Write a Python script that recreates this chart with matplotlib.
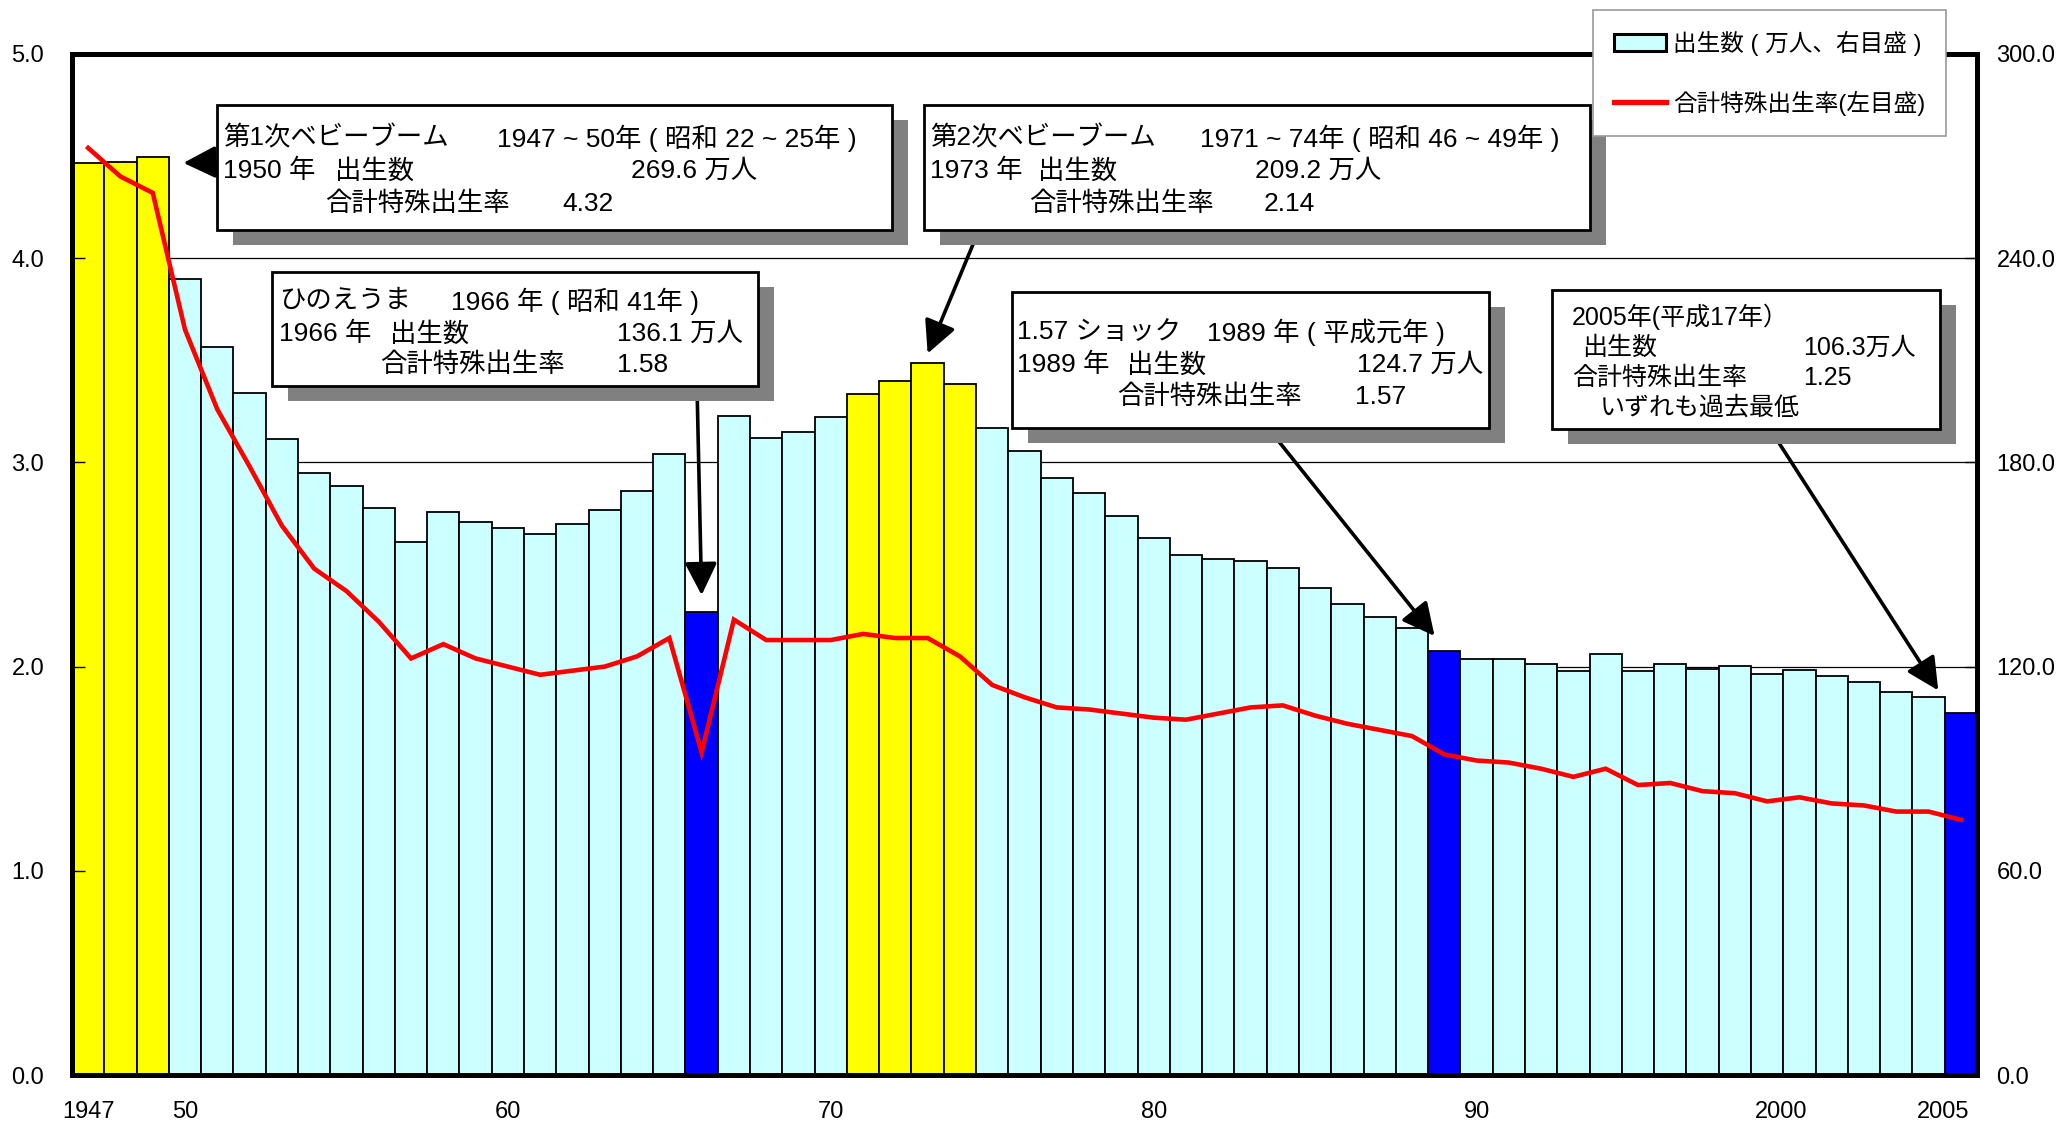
import matplotlib
matplotlib.use("Agg")
import matplotlib.pyplot as plt
from matplotlib import font_manager
from matplotlib.patches import Rectangle, Patch
from matplotlib.lines import Line2D
from matplotlib.transforms import ScaledTranslation

# ---- fonts ----
_names = {f.name for f in font_manager.fontManager.ttflist}
NARROW = "Liberation Sans Narrow" if "Liberation Sans Narrow" in _names else "Liberation Sans"
JP = "Noto Sans CJK JP"
plt.rcParams["font.family"] = [NARROW, JP, "DejaVu Sans"]

# ---- data ----
years = list(range(1947, 2006))
births = [267.9, 268.2, 269.6, 233.8, 213.8, 200.5, 186.8, 177.0, 173.1, 166.5,
          156.7, 165.3, 162.6, 160.6, 158.9, 161.9, 166.0, 171.7, 182.4, 136.1,
          193.6, 187.2, 188.9, 193.4, 200.1, 203.9, 209.2, 203.0, 190.1, 183.3,
          175.5, 170.9, 164.3, 157.7, 152.9, 151.5, 150.9, 149.0, 143.2, 138.3,
          134.7, 131.4, 124.7, 122.2, 122.3, 120.9, 118.8, 123.8, 118.7, 120.7,
          119.2, 120.3, 117.8, 119.1, 117.1, 115.4, 112.4, 111.1, 106.3]
tfr = [4.54, 4.40, 4.32, 3.65, 3.26, 2.98, 2.69, 2.48, 2.37, 2.22,
       2.04, 2.11, 2.04, 2.00, 1.96, 1.98, 2.00, 2.05, 2.14, 1.58,
       2.23, 2.13, 2.13, 2.13, 2.16, 2.14, 2.14, 2.05, 1.91, 1.85,
       1.80, 1.79, 1.77, 1.75, 1.74, 1.77, 1.80, 1.81, 1.76, 1.72,
       1.69, 1.66, 1.57, 1.54, 1.53, 1.50, 1.46, 1.50, 1.42, 1.43,
       1.39, 1.38, 1.34, 1.36, 1.33, 1.32, 1.29, 1.29, 1.25]
boom_years = [1947, 1948, 1949, 1971, 1972, 1973, 1974]
low_years = [1966, 1989, 2005]

xtick_years = [1947, 1950, 1960, 1970, 1980, 1990, 2000, 2005]
xtick_labels = ["1947", "50", "60", "70", "80", "90", "2000", "2005"]
left_ticks = [0, 1, 2, 3, 4, 5]
right_ticks = [0, 60, 120, 180, 240, 300]

CYAN = "#CCFFFF"
YELLOW = "#FFFF00"
BLUE = "#0000FF"

W, H = 2060, 1125
fig = plt.figure(figsize=(W / 100, H / 100), dpi=100)


def fx(x):
    return x / W


def fy(y):
    return 1 - y / H


# line axis (left) on top of bar axis (right)
ax = fig.add_axes([fx(72), fy(1075), fx(1977) - fx(72), fy(54) - fy(1075)])
ax2 = ax.twinx()
ax.set_zorder(2)
ax.patch.set_visible(False)

colors = []
for y in years:
    if y in boom_years:
        colors.append(YELLOW)
    elif y in low_years:
        colors.append(BLUE)
    else:
        colors.append(CYAN)

ax2.bar(years, births, width=1.0, color=colors, edgecolor="black", linewidth=1.3, zorder=2)
ax2.set_ylim(0, 300)
ax2.set_yticks(right_ticks)
ax2.set_yticklabels([f"{v:.1f}" for v in right_ticks])
ax2.grid(axis="y", color="black", linewidth=0.9)
ax2.set_axisbelow(True)

ax.plot(years, tfr, color="#FF0000", linewidth=3.3, solid_joinstyle="miter")
ax.set_ylim(0, 5)
ax.set_xlim(1946.5, 2005.5)
ax.set_yticks(left_ticks)
ax.set_yticklabels([f"{v:.1f}" for v in left_ticks])
ax.set_xticks(xtick_years)
ax.set_xticklabels(xtick_labels)

ax.tick_params(axis="y", direction="in", length=9, width=1, pad=20, labelsize=17)
ax2.tick_params(axis="y", direction="in", length=9, width=1, pad=14, labelsize=17)
ax.tick_params(axis="x", length=0, pad=19, labelsize=17)
# the last two year labels sit a little left of their bars
for lab in ax.get_xticklabels()[-2:]:
    lab.set_transform(lab.get_transform() + ScaledTranslation(-0.18, 0, fig.dpi_scale_trans))

for a in (ax, ax2):
    for sp in a.spines.values():
        sp.set_linewidth(3.5)
        sp.set_color("black")

# ---- annotation boxes ----
SHADOW = (16, 15)


def box(x0, y0, x1, y1):
    fig.patches.append(Rectangle((fx(x0 + SHADOW[0]), fy(y1 + SHADOW[1])),
                                 fx(x1) - fx(x0), fy(y0) - fy(y1),
                                 transform=fig.transFigure, facecolor="#808080",
                                 edgecolor="none", zorder=5))
    fig.patches.append(Rectangle((fx(x0), fy(y1)), fx(x1) - fx(x0), fy(y0) - fy(y1),
                                 transform=fig.transFigure, facecolor="white",
                                 edgecolor="black", linewidth=2.0, zorder=6))


def put(x, y, s, size=19, family=None):
    kw = {}
    if family:
        kw["family"] = family
    fig.text(fx(x), fy(y), s, ha="left", va="center", fontsize=size, zorder=7, **kw)


def arrow(tail, tip):
    ax2.annotate("", xy=tip, xycoords="data",
                 xytext=(fx(tail[0]), fy(tail[1])), textcoords="figure fraction",
                 arrowprops=dict(arrowstyle="-|>,head_length=0.9,head_width=0.45",
                                 color="black", lw=2.6, mutation_scale=22,
                                 shrinkA=0, shrinkB=0),
                 annotation_clip=False, zorder=4)


# 第1次ベビーブーム
box(217, 105, 892, 230)
put(223, 138, "第1次ベビーブーム")
put(497, 138, "1947 ~ 50年 ( 昭和 22 ~ 25年 )")
put(223, 171, "1950 年")
put(335, 171, "出生数")
put(631, 171, "269.6 万人")
put(325, 204, "合計特殊出生率")
put(562, 204, "4.32")
arrow((217, 162), (1949.95, 268))

# ひのえうま
box(272, 272, 758, 386)
put(279, 301, "ひのえうま")
put(451, 301, "1966 年 ( 昭和 41年 )")
put(279, 334, "1966 年")
put(390, 334, "出生数")
put(617, 334, "136.1 万人")
put(380, 365, "合計特殊出生率")
put(617, 365, "1.58")
arrow((697, 386), (1966.0, 141))

# 第2次ベビーブーム
box(924, 105, 1590, 230)
put(930, 138, "第2次ベビーブーム")
put(1200, 138, "1971 ~ 74年 ( 昭和 46 ~ 49年 )")
put(930, 171, "1973 年")
put(1038, 171, "出生数")
put(1255, 171, "209.2 万人")
put(1029, 204, "合計特殊出生率")
put(1264, 204, "2.14")
arrow((979, 230), (1973.0, 212))

# 1.57ショック
box(1012, 292, 1489, 428)
put(1017, 332, "1.57 ショック")
put(1207, 332, "1989 年 ( 平成元年 )")
put(1017, 365, "1989 年")
put(1127, 365, "出生数")
put(1357, 365, "124.7 万人")
put(1117, 397, "合計特殊出生率")
put(1355, 397, "1.57")
arrow((1268, 428), (1988.7, 129))

# 2005年
ARIAL = ["Liberation Sans", JP]
box(1552, 290, 1940, 429)
put(1572, 317, "2005年(平成17年）", size=18, family=ARIAL)
put(1582, 348, "出生数", size=18, family=ARIAL)
put(1803, 348, "106.3万人", size=18, family=ARIAL)
put(1572, 378, "合計特殊出生率", size=18, family=ARIAL)
put(1803, 378, "1.25", size=18, family=ARIAL)
put(1600, 408, "いずれも過去最低", size=18, family=ARIAL)
arrow((1770, 429), (2004.3, 113))

# ---- legend ----
handles = [Patch(facecolor=CYAN, edgecolor="black", linewidth=2.2),
           Line2D([0], [0], color="#FF0000", linewidth=3.8)]
labels = ["出生数 ( 万人、右目盛 )", "合計特殊出生率(左目盛)"]
leg = fig.legend(handles, labels, loc="upper left",
                 bbox_to_anchor=(fx(1593), fy(10)), bbox_transform=fig.transFigure,
                 fontsize=17, frameon=True, fancybox=False, framealpha=1,
                 edgecolor="#999999", handlelength=2.2, handleheight=0.72,
                 handletextpad=0.3, labelspacing=1.46, borderpad=0.88, borderaxespad=0)
leg.get_frame().set_linewidth(1.2)
leg.set_zorder(10)

fig.savefig("out.png", dpi=100)
